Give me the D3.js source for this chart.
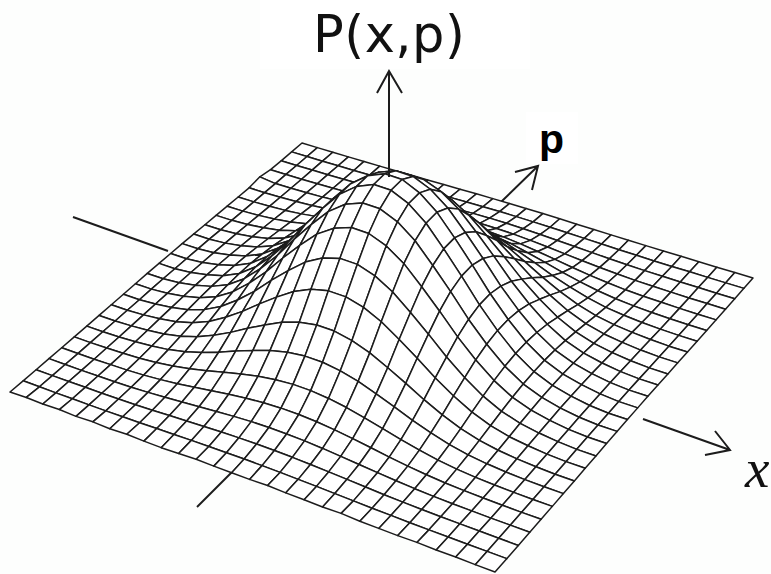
<!DOCTYPE html>
<html lang="en">
<head>
<meta charset="UTF-8">
<title>P(x,p)</title>
<script src="https://d3js.org/d3.v7.min.js"></script>
<style>
  html, body { margin: 0; padding: 0; background: #fdfefd; overflow: hidden; }
</style>
</head>
<body>
<div id="my_dataviz"></div>
<script>
// grid lines along each axis
var xLines = d3.range(28);
var pLines = d3.range(26);
// surface height at each grid node (0 to 1000, one row per p line)
var zValues = [
  [0,4,1,5,1,6,2,7,4,3,7,12,10,10,10,14,10,9,7,10,4,3,2,4,1,3,0,0],
  [0,0,0,1,1,2,4,6,9,12,15,17,19,20,20,19,17,15,12,9,6,4,2,1,1,0,0,0],
  [0,0,1,2,3,5,8,12,18,24,29,34,38,40,40,38,34,29,24,18,12,8,5,3,2,1,0,0],
  [1,1,1,3,5,8,14,22,31,41,51,60,67,70,70,67,60,51,41,31,22,14,8,5,3,1,1,1],
  [1,1,2,5,8,14,24,37,53,71,88,103,114,120,120,114,103,88,71,53,37,24,14,8,5,2,1,1],
  [2,2,4,8,14,24,40,62,88,118,146,172,190,200,200,190,172,146,118,88,62,40,24,14,8,4,2,2],
  [3,3,6,12,22,37,62,96,136,183,226,267,295,310,310,295,267,226,183,136,96,62,37,22,12,6,3,3],
  [4,4,9,18,31,53,88,136,194,260,321,378,418,440,440,418,378,321,260,194,136,88,53,31,18,9,4,4],
  [6,6,12,24,41,71,118,183,260,348,431,507,561,590,590,561,507,431,348,260,183,118,71,41,24,12,6,6],
  [7,7,15,29,51,88,146,226,321,431,533,628,694,730,730,694,628,533,431,321,226,146,88,51,29,15,7,7],
  [9,9,17,34,60,103,172,267,378,507,628,740,817,860,860,817,740,628,507,378,267,172,103,60,34,17,9,9],
  [10,10,19,38,67,114,190,295,418,561,694,817,903,950,950,903,817,694,561,418,295,190,114,67,38,19,10,10],
  [10,10,20,40,70,120,200,310,440,590,730,860,950,1000,1000,950,860,730,590,440,310,200,120,70,40,20,10,10],
  [10,10,20,40,70,120,200,310,440,590,730,860,950,1000,1000,950,860,730,590,440,310,200,120,70,40,20,10,10],
  [10,10,19,38,67,114,190,295,418,561,694,817,903,950,950,903,817,694,561,418,295,190,114,67,38,19,10,10],
  [9,9,17,34,60,103,172,267,378,507,628,740,817,860,860,817,740,628,507,378,267,172,103,60,34,17,9,9],
  [7,7,15,29,51,88,146,226,321,431,533,628,694,730,730,694,628,533,431,321,226,146,88,51,29,15,7,7],
  [6,6,12,24,41,71,118,183,260,348,431,507,561,590,590,561,507,431,348,260,183,118,71,41,24,12,6,6],
  [4,4,9,18,31,53,88,136,194,260,321,378,418,440,440,418,378,321,260,194,136,88,53,31,18,9,4,4],
  [3,3,6,12,22,37,62,96,136,183,226,267,295,310,310,295,267,226,183,136,96,62,37,22,12,6,3,3],
  [2,2,4,8,14,24,40,62,88,118,146,172,190,200,200,190,172,146,118,88,62,40,24,14,8,4,2,2],
  [14,1,2,5,8,14,24,37,53,71,88,103,114,120,120,114,103,88,71,53,37,24,14,8,5,2,1,1],
  [1,1,1,3,5,8,14,22,31,41,51,60,67,70,70,67,60,51,41,31,22,14,8,5,3,1,1,1],
  [0,0,1,2,3,5,8,12,18,24,29,34,38,40,40,38,34,29,24,18,12,8,5,3,2,1,0,0],
  [0,0,0,1,1,2,4,6,9,12,15,17,19,20,20,19,17,15,12,9,6,4,2,1,1,0,0,0],
  [0,0,0,0,1,1,2,3,4,6,7,9,10,10,10,10,9,7,6,4,3,2,1,1,0,0,0,0]
];

var width = 771, height = 574;
var svg = d3.select("#my_dataviz").append("svg").attr("width", width).attr("height", height);

var x = d3.scaleLinear().domain([0, xLines.length - 1]).range([0, 1]);
var p = d3.scaleLinear().domain([0, pLines.length - 1]).range([0, 1]);
var z = d3.scaleLinear().domain([0, 1000]).range([0, 152]);

// base plane corners on screen: left, bottom, right, top
var c = [[10, 392], [495, 572], [753, 278], [302, 143]];
var dx1 = c[1][0] - c[2][0], dx2 = c[3][0] - c[2][0], sx = c[0][0] - c[1][0] + c[2][0] - c[3][0];
var dy1 = c[1][1] - c[2][1], dy2 = c[3][1] - c[2][1], sy = c[0][1] - c[1][1] + c[2][1] - c[3][1];
var det = dx1 * dy2 - dx2 * dy1;
var g = (sx * dy2 - dx2 * sy) / det, h = (dx1 * sy - sx * dy1) / det;
function project(u, v, w) {
  var d = g * u + h * v + 1;
  return [
    (c[1][0] - c[0][0] + g * c[1][0]) * u / d + (c[3][0] - c[0][0] + h * c[3][0]) * v / d + c[0][0] / d,
    (c[1][1] - c[0][1] + g * c[1][1]) * u / d + (c[3][1] - c[0][1] + h * c[3][1]) * v / d + c[0][1] / d - z(w)
  ];
}

// white patches behind the two pasted labels
svg.append("rect").attr("x", 260).attr("y", 0).attr("width", 270).attr("height", 69).attr("fill", "#fff");
svg.append("rect").attr("x", 526).attr("y", 112).attr("width", 52).attr("height", 52).attr("fill", "#fff");

var ink = "#1c1c1c";
var plot = svg.append("g").style("filter", "blur(0.45px)");

// axes, the surface covers them
var arrows = [
  {d: "M73,217L168,251"},
  {d: "M197,507L232,472"},
  {d: "M643,419L730,450M715,431L730,450L705,455"},
  {d: "M501,202L538,166M515,172L538,166L532,190"}
];
plot.selectAll("path.axis").data(arrows).enter().append("path")
  .attr("class", "axis").attr("d", function(d) { return d.d; })
  .attr("fill", "none").attr("stroke", ink).attr("stroke-width", 2);

// far cells first so the near ones hide what is behind the hump
var cells = [];
for (var j = pLines.length - 2; j >= 0; j--) {
  for (var i = 0; i < xLines.length - 1; i++) {
    cells.push([[i, j], [i + 1, j], [i + 1, j + 1], [i, j + 1]]);
  }
}
var line = d3.line()
  .x(function(d) { return project(x(d[0]), p(d[1]), zValues[d[1]][d[0]])[0]; })
  .y(function(d) { return project(x(d[0]), p(d[1]), zValues[d[1]][d[0]])[1]; })
  .curve(d3.curveLinearClosed);
plot.selectAll("path.cell").data(cells).enter().append("path")
  .attr("class", "cell").attr("d", line)
  .attr("fill", "#fff").attr("stroke", ink).attr("stroke-width", 1.5).attr("stroke-linejoin", "round");

plot.append("path")
  .attr("d", "M389,177L389,71M377,93L389,71L402,93")
  .attr("fill", "none").attr("stroke", ink).attr("stroke-width", 2);

svg.append("text").attr("x", 313).attr("y", 52)
  .style("font-family", "'DejaVu Sans'").style("font-size", "51px").style("letter-spacing", "0.5px").attr("fill", "#111").text("P(x,p)");
svg.append("text").attr("x", 539).attr("y", 153)
  .style("font-family", "'Liberation Sans'").style("font-weight", "bold").style("font-size", "41px").attr("fill", "#000").text("p");
svg.append("text").attr("x", 745).attr("y", 487)
  .style("font-family", "'Liberation Serif'").style("font-style", "italic").style("font-size", "55px").attr("fill", "#111").text("x");
</script>
</body>
</html>
